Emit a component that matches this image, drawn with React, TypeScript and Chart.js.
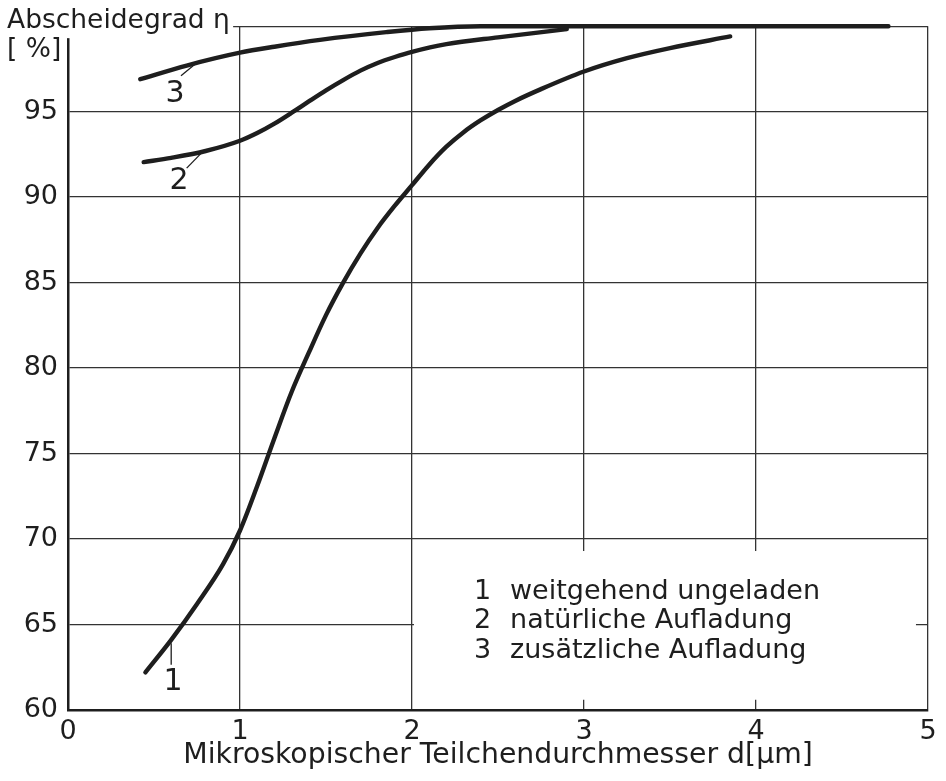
import React, { useEffect, useRef } from 'react';
import { Chart, registerables } from 'chart.js';

Chart.register(...registerables);

// ---- data ----
const xTickValues = [0, 1, 2, 3, 4, 5];
const yTickValues = [60, 65, 70, 75, 80, 85, 90, 95, 100];

const curve1X = [0.45, 0.6, 0.75, 0.9, 1.0, 1.1, 1.2, 1.3, 1.4, 1.5, 1.6, 1.7, 1.8, 1.9, 2.0, 2.1, 2.2, 2.3, 2.4, 2.5, 2.6, 2.75, 3.0, 3.25, 3.5, 3.85];
const curve1Y = [62.2, 64.1, 66.2, 68.5, 70.5, 73.1, 75.9, 78.6, 80.9, 83.1, 85.0, 86.7, 88.2, 89.5, 90.7, 91.9, 92.95, 93.8, 94.5, 95.1, 95.63, 96.32, 97.35, 98.13, 98.72, 99.4];

const curve2X = [0.44, 0.6, 0.8, 1.0, 1.1, 1.2, 1.31, 1.4, 1.5, 1.6, 1.7, 1.8, 1.9, 2.0, 2.2, 2.5, 2.9];
const curve2Y = [92.05, 92.3, 92.7, 93.3, 93.75, 94.3, 95.0, 95.6, 96.25, 96.85, 97.4, 97.85, 98.2, 98.5, 98.95, 99.35, 99.83];

const curve3X = [0.42, 0.69, 1.0, 1.2, 1.465, 1.85, 2.1, 2.4, 4.77];
const curve3Y = [96.9, 97.7, 98.45, 98.8, 99.2, 99.65, 99.88, 100, 100];

const yTitle = 'Abscheidegrad η';
const yUnit = '[ %]';
const xTitle = 'Mikroskopischer Teilchendurchmesser d[µm]';
const curveLabels = ['1', '2', '3'];
const legendLabels = ['weitgehend ungeladen', 'natürliche Aufladung', 'zusätzliche Aufladung'];

const FONT = '"DejaVu Sans", sans-serif';
const INK = '#1e1e1e';

const toPts = (xs: number[], ys: number[]) => xs.map((x, i) => ({ x, y: ys[i] }));

const annotPlugin = {
  id: 'annot',
  beforeDatasetsDraw(chart: any) {
    const { ctx } = chart;
    const xs = chart.scales.x;
    const ys = chart.scales.y;
    const px = (v: number) => xs.getPixelForValue(v);
    const py = (v: number) => ys.getPixelForValue(v);
    ctx.save();
    ctx.fillStyle = '#ffffff';
    // legend box (covers grid)
    const bx0 = px(2) + 2;
    const bx1 = px(4.93);
    const by0 = py(69.3);
    const by1 = py(60.6);
    ctx.fillRect(bx0, by0, bx1 - bx0, by1 - by0);
    // title area cover
    ctx.fillRect(0, 0, px(0.96), py(99.3));

    ctx.fillStyle = INK;
    ctx.textBaseline = 'alphabetic';
    ctx.font = `26.5px ${FONT}`;
    ctx.textAlign = 'left';
    ctx.fillText(yTitle, 7, 28);
    ctx.fillText(yUnit, 7, 57);

    // legend
    ctx.font = `27px ${FONT}`;
    const legY = [66.49, 64.81, 63.07];
    legendLabels.forEach((t, i) => {
      ctx.fillText(curveLabels[i], px(2.36), py(legY[i]));
      ctx.fillText(t, px(2.57), py(legY[i]));
    });

    // curve labels with leader lines
    ctx.font = `30px ${FONT}`;
    ctx.textAlign = 'center';
    const lab = [
      { t: curveLabels[0], x: 0.61, y: 61.16, l: [0.6, 63.9, 0.6, 62.65] },
      { t: curveLabels[1], x: 0.645, y: 90.47, l: [0.69, 91.7, 0.785, 92.68] },
      { t: curveLabels[2], x: 0.622, y: 95.57, l: [0.657, 97.1, 0.738, 97.78] },
    ];
    ctx.strokeStyle = INK;
    ctx.lineWidth = 1.3;
    lab.forEach((a) => {
      ctx.fillText(a.t, px(a.x), py(a.y));
      ctx.beginPath();
      ctx.moveTo(px(a.l[0]), py(a.l[1]));
      ctx.lineTo(px(a.l[2]), py(a.l[3]));
      ctx.stroke();
    });
    ctx.restore();
  },
};

export default function App() {
  const ref = useRef<HTMLCanvasElement | null>(null);
  useEffect(() => {
    if (!ref.current) return;
    const ds = (xs: number[], ys: number[]) => ({
      data: toPts(xs, ys),
      borderColor: INK,
      borderWidth: 4.4,
      pointRadius: 0,
      cubicInterpolationMode: 'monotone' as const,
      borderCapStyle: 'round' as const,
      borderJoinStyle: 'round' as const,
      clip: false as any,
      fill: false,
    });
    const chart = new Chart(ref.current, {
      type: 'line',
      data: {
        datasets: [ds(curve1X, curve1Y), ds(curve2X, curve2Y), ds(curve3X, curve3Y)],
      },
      options: {
        responsive: false,
        animation: false,
        layout: { padding: { top: 20, right: 18, left: 0, bottom: 0 } },
        plugins: {
          legend: { display: false },
          tooltip: { enabled: false },
        },
        scales: {
          x: {
            type: 'linear',
            min: 0,
            max: 5,
            afterBuildTicks: (s: any) => {
              s.ticks = xTickValues.map((v) => ({ value: v }));
            },
            afterFit: (s: any) => {
              s.height = 71;
            },
            grid: { color: '#333', lineWidth: 1.3, drawTicks: false },
            border: { display: true, color: INK, width: 2.5 },
            ticks: {
              color: INK,
              font: { family: FONT, size: 27 },
              padding: 6,
              maxRotation: 0,
              autoSkip: false,
            },
            title: {
              display: true,
              text: xTitle,
              color: INK,
              font: { family: FONT, size: 28.3 },
              padding: { top: 0, bottom: 8 },
            },
          },
          y: {
            type: 'linear',
            min: 60,
            max: 100,
            afterBuildTicks: (s: any) => {
              s.ticks = yTickValues.map((v) => ({ value: v }));
            },
            afterFit: (s: any) => {
              s.width = 68;
            },
            grid: { color: '#333', lineWidth: 1.3, drawTicks: false },
            border: { display: true, color: INK, width: 2.5 },
            ticks: {
              color: INK,
              font: { family: FONT, size: 27 },
              padding: 10,
              autoSkip: false,
              callback: (v: any) => (v === 100 ? '' : String(v)),
            },
          },
        },
      },
      plugins: [annotPlugin],
    });
    return () => chart.destroy();
  }, []);
  return (
    <div style={{ position: 'absolute', left: 0, top: 0, width: 946, height: 781, background: '#fff' }}>
      <canvas ref={ref} width={946} height={781} style={{ display: 'block' }} />
    </div>
  );
}
